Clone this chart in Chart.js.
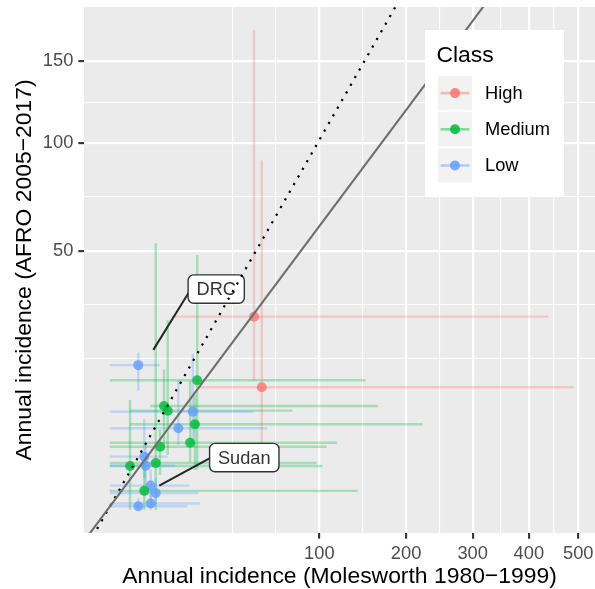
<!DOCTYPE html>
<html>
<head>
<meta charset="utf-8">
<script src="https://cdn.jsdelivr.net/npm/chart.js@4.4.1/dist/chart.umd.min.js"></script>
<style>
  html, body { margin: 0; padding: 0; background: #fff; }
</style>
</head>
<body>
<canvas id="myChart" width="595" height="589"></canvas>
<script>
// values (annual incidence)
const classNames  = ['High', 'Medium', 'Low'];
const classColors = ['#F8766D', '#00BA38', '#619CFF'];

const pointClass = ['High', 'High', 'Low', 'Medium', 'Medium', 'Medium', 'Low', 'Medium', 'Low', 'Medium',
                    'Medium', 'Low', 'Medium', 'Medium', 'Low', 'Low', 'Medium', 'Low', 'Low', 'Low'];
const moleMid = [47.4, 52.6, 1.85, 17.4, 6.69, 7.64, 15.7, 16.5, 10.7, 5.74,
                 14.7, 2.71, 0.93, 4.80, 2.94, 3.81, 2.71, 4.80, 1.85, 3.81];
const moleLo  = [8.7, 17.8, 0, 0, 3.7, 0.93, 0, 0.93, 0, 0,
                 0, 0, 0, 0, 0, 0, 0, 0, 0, 0];
const moleHi  = [438, 490, 5.7, 149, 164, 76, 47, 223, 56.5, 107,
                 118, 7.7, 103, 97.5, 9.7, 14.4, 140, 17.8, 13.7, 18.5];
const afroMid = [27.8, 11.2, 15.6, 12.5, 8.04, 7.33, 7.18, 5.46, 4.96, 2.97,
                 3.36, 2.11, 1.43, 1.64, 1.45, 0.44, 0.27, 0.21, 0.01, 0.03];
const afroLo  = [12.4, 2.08, 10.6, 1.19, 2.67, 2.24, 3.14, 1.19, 3.14, 0.91,
                 1.71, 0.76, 0, 0, 0.46, 0.07, 0, 0.02, 0, 0];
const afroHi  = [171.5, 90.8, 18.4, 48.4, 14.7, 26.8, 18.1, 9.83, 12.6, 4.75,
                 12.4, 6.15, 8.99, 52.9, 3.14, 1.19, 1.64, 0.76, 0.11, 0.29];

const xBreaks = [100, 200, 300, 400, 500];
const yBreaks = [50, 100, 150];

// reference lines on the sqrt scale: dotted y = x, solid fitted line
const refSlopes = [1, 0.765];
const refIntercept = 0.09;

// country labels
const noteText  = ['DRC', 'Sudan'];
const noteBoxX  = [25.8, 41.2];
const noteBoxY  = [36.3, 2.04];
const noteFromX = [14.1, 22.65];
const noteFromY = [35.0, 1.98];
const noteToX   = [4.31, 5.58];
const noteToY   = [19.06, 0.436];

const FONT = '"Liberation Sans", Arial, Helvetica, sans-serif';
const tr = v => Math.sqrt(v);

function hexA(hex, a) {
  const n = parseInt(hex.slice(1), 16);
  return 'rgba(' + (n >> 16) + ',' + ((n >> 8) & 255) + ',' + (n & 255) + ',' + a + ')';
}
function colorOf(i) {
  return classColors[classNames.indexOf(pointClass[i])];
}

// major breaks plus ggplot style minor breaks (one extra step below)
function buildTicks(breaks) {
  const b = breaks.map(tr);
  const bd = b[1] - b[0];
  const ext = [b[0] - bd].concat(b);
  const out = [{value: ext[0], isMajor: false}];
  for (let i = 0; i < ext.length - 1; i++) {
    out.push({value: (ext[i] + ext[i + 1]) / 2, isMajor: false});
  }
  b.forEach(v => out.push({value: v, isMajor: true}));
  return out.sort((p, q) => p.value - q.value);
}

function noPadding(s) {
  s.paddingTop = 0;
  s.paddingBottom = 0;
  s.paddingLeft = 0;
  s.paddingRight = 0;
}

const gridOpts = {
  color: '#FFFFFF',
  lineWidth: c => (c.tick && c.tick.isMajor ? 2.2 : 1.1),
  tickColor: c => (c.tick && c.tick.isMajor ? '#333333' : 'rgba(0,0,0,0)'),
  tickWidth: 2.1,
  tickLength: 5.7,
};
const tickFont = {family: FONT, size: 18.3};
const titleFont = {family: FONT, size: 22.9, lineHeight: 1};
const tickLabel = (v, i, t) => (t[i] && t[i].isMajor ? String(Math.round(v * v)) : '');

const panelBg = {
  id: 'panelBg',
  beforeDraw(chart) {
    const {ctx, chartArea: a} = chart;
    ctx.save();
    ctx.fillStyle = '#FFFFFF';
    ctx.fillRect(0, 0, chart.width, chart.height);
    ctx.fillStyle = '#EBEBEB';
    ctx.fillRect(a.left, a.top, a.right - a.left, a.bottom - a.top);
    ctx.restore();
  },
};

const errorBars = {
  id: 'errorBars',
  beforeDatasetsDraw(chart) {
    const {ctx, chartArea: a, scales: {x, y}} = chart;
    ctx.save();
    ctx.beginPath();
    ctx.rect(a.left, a.top, a.right - a.left, a.bottom - a.top);
    ctx.clip();
    ctx.lineWidth = 2.4;
    for (let i = 0; i < moleMid.length; i++) {
      const px = x.getPixelForValue(tr(moleMid[i]));
      const py = y.getPixelForValue(tr(afroMid[i]));
      ctx.strokeStyle = hexA(colorOf(i), 0.3);
      ctx.beginPath();
      ctx.moveTo(x.getPixelForValue(tr(moleLo[i])), py);
      ctx.lineTo(x.getPixelForValue(tr(moleHi[i])), py);
      ctx.stroke();
      ctx.beginPath();
      ctx.moveTo(px, y.getPixelForValue(tr(afroLo[i])));
      ctx.lineTo(px, y.getPixelForValue(tr(afroHi[i])));
      ctx.stroke();
    }
    ctx.restore();
  },
};

function roundRect(ctx, x, y, w, h, r) {
  ctx.beginPath();
  ctx.moveTo(x + r, y);
  ctx.lineTo(x + w - r, y);
  ctx.arcTo(x + w, y, x + w, y + r, r);
  ctx.lineTo(x + w, y + h - r);
  ctx.arcTo(x + w, y + h, x + w - r, y + h, r);
  ctx.lineTo(x + r, y + h);
  ctx.arcTo(x, y + h, x, y + h - r, r);
  ctx.lineTo(x, y + r);
  ctx.arcTo(x, y, x + r, y, r);
  ctx.closePath();
}

const overlay = {
  id: 'overlay',
  afterDatasetsDraw(chart) {
    const {ctx, chartArea: a, scales: {x, y}} = chart;
    ctx.save();
    ctx.beginPath();
    ctx.rect(a.left, a.top, a.right - a.left, a.bottom - a.top);
    ctx.clip();

    // labels with leader segments
    for (let i = 0; i < noteText.length; i++) {
      ctx.strokeStyle = '#262626';
      ctx.lineWidth = 2;
      ctx.setLineDash([]);
      ctx.beginPath();
      ctx.moveTo(x.getPixelForValue(tr(noteFromX[i])), y.getPixelForValue(tr(noteFromY[i])));
      ctx.lineTo(x.getPixelForValue(tr(noteToX[i])), y.getPixelForValue(tr(noteToY[i])));
      ctx.stroke();
      const bx = x.getPixelForValue(tr(noteBoxX[i]));
      const by = y.getPixelForValue(tr(noteBoxY[i]));
      ctx.font = '18.2px ' + FONT;
      const w = ctx.measureText(noteText[i]).width + 16.8;
      const h = 28.4;
      roundRect(ctx, bx - w / 2, by - h / 2, w, h, 5.5);
      ctx.fillStyle = '#FFFFFF';
      ctx.fill();
      ctx.lineWidth = 1.4;
      ctx.strokeStyle = '#333333';
      ctx.stroke();
      ctx.fillStyle = '#333333';
      ctx.textAlign = 'center';
      ctx.textBaseline = 'middle';
      ctx.fillText(noteText[i], bx, by + 1);
    }

    // reference lines
    const x0 = x.min, x1 = x.max;
    refSlopes.forEach((s, k) => {
      ctx.beginPath();
      ctx.moveTo(x.getPixelForValue(x0), y.getPixelForValue(s * x0 + refIntercept));
      ctx.lineTo(x.getPixelForValue(x1), y.getPixelForValue(s * x1 + refIntercept));
      if (k === 0) {
        ctx.strokeStyle = '#000000';
        ctx.lineWidth = 2.2;
        ctx.setLineDash([2.2, 6.6]);
      } else {
        ctx.strokeStyle = '#6E6E6E';
        ctx.lineWidth = 2.1;
        ctx.setLineDash([]);
      }
      ctx.stroke();
    });
    ctx.restore();

    // legend inside the panel
    ctx.save();
    ctx.fillStyle = '#FFFFFF';
    ctx.fillRect(425, 30, 139, 166);
    ctx.fillStyle = '#000000';
    ctx.font = '22.9px ' + FONT;
    ctx.textAlign = 'left';
    ctx.textBaseline = 'alphabetic';
    ctx.fillText('Class', 436.5, 61.5);
    classNames.forEach((name, c) => {
      const ky = 76 + c * 36.2;
      const cy = ky + 17.1;
      ctx.fillStyle = '#F2F2F2';
      ctx.fillRect(438, ky, 34, 34.2);
      ctx.strokeStyle = hexA(classColors[c], 0.45);
      ctx.lineWidth = 2.6;
      ctx.beginPath();
      ctx.moveTo(440.5, cy);
      ctx.lineTo(469.5, cy);
      ctx.stroke();
      ctx.fillStyle = hexA(classColors[c], 0.85);
      ctx.beginPath();
      ctx.arc(455, cy, 5, 0, Math.PI * 2);
      ctx.fill();
      ctx.fillStyle = '#000000';
      ctx.font = '18.3px ' + FONT;
      ctx.textBaseline = 'middle';
      ctx.fillText(name, 485, cy + 0.5);
    });
    ctx.restore();
  },
};

const points = moleMid.map((v, i) => ({x: tr(v), y: tr(afroMid[i])}));

const config = {
  type: 'scatter',
  data: {
    datasets: [{
      label: 'countries',
      data: points,
      backgroundColor: points.map((p, i) => hexA(colorOf(i), 0.8)),
      borderWidth: 0,
      pointRadius: 5,
      pointHoverRadius: 5,
    }],
  },
  options: {
    responsive: false,
    animation: false,
    events: [],
    layout: {autoPadding: false, padding: {top: 7, left: 0, right: 0, bottom: 0}},
    plugins: {legend: {display: false}, tooltip: {enabled: false}},
    scales: {
      x: {
        type: 'linear',
        min: -1.232,
        max: 23.16,
        afterBuildTicks: s => { s.ticks = buildTicks(xBreaks); },
        afterFit: s => { s.height = 56; noPadding(s); },
        ticks: {autoSkip: false, maxRotation: 0, padding: 4.5, color: '#4D4D4D', font: tickFont, callback: tickLabel},
        grid: gridOpts,
        border: {display: false},
        title: {display: true, text: 'Annual incidence (Molesworth 1980\u22121999)', color: '#000000',
                font: titleFont, padding: {top: 0, bottom: 1}},
      },
      y: {
        type: 'linear',
        min: -0.63,
        max: 13.72,
        afterBuildTicks: s => { s.ticks = buildTicks(yBreaks); },
        afterFit: s => { s.width = 84; noPadding(s); },
        ticks: {autoSkip: false, padding: 5, color: '#4D4D4D', font: tickFont, callback: tickLabel},
        grid: gridOpts,
        border: {display: false},
        title: {display: true, text: 'Annual incidence (AFRO 2005\u22122017)', color: '#000000',
                font: titleFont, padding: {top: 13.5, bottom: 0}},
      },
    },
  },
  plugins: [panelBg, errorBars, overlay],
};

const myChart = new Chart(document.getElementById('myChart'), config);
</script>
</body>
</html>
